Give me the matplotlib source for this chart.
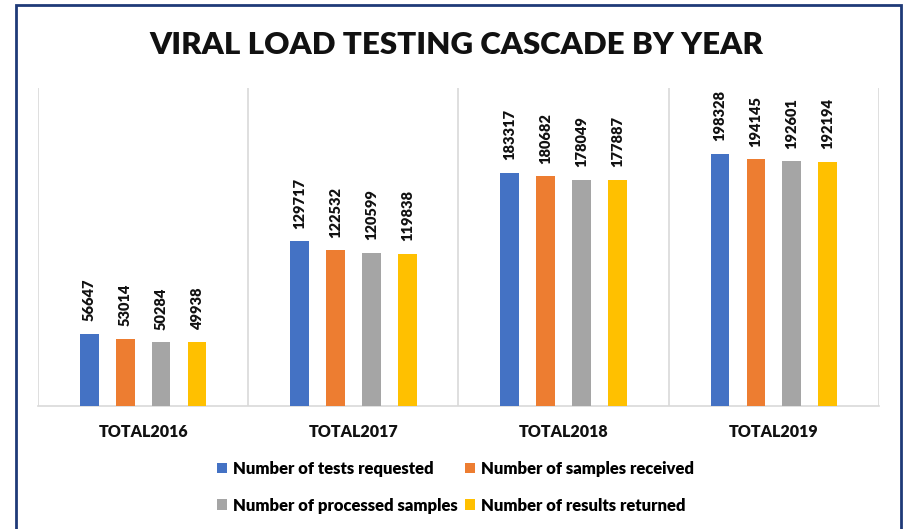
import matplotlib.pyplot as plt
from matplotlib.patches import Rectangle
import numpy as np

plt.rcParams['font.family'] = ['Lato', 'DejaVu Sans']

years = ['TOTAL2016', 'TOTAL2017', 'TOTAL2018', 'TOTAL2019']
series_names = ['Number of tests requested', 'Number of samples received',
                'Number of processed samples', 'Number of results returned']
tests_requested = [56647, 129717, 183317, 198328]
samples_received = [53014, 122532, 180682, 194145]
processed_samples = [50284, 120599, 178049, 192601]
results_returned = [49938, 119838, 177887, 192194]
colors = ['#4472C4', '#ED7D31', '#A5A5A5', '#FFC000']

series = [tests_requested, samples_received, processed_samples, results_returned]

fig = plt.figure(figsize=(9.07, 5.29), dpi=100)
ax = fig.add_axes([0.0419, 0.2325, 0.9272, 0.6011])

x = np.arange(len(years))
step = 0.171
width = 0.089
handles = []
for i, (vals, col, name) in enumerate(zip(series, colors, series_names)):
    pos = x + (i - 1.5) * step
    bars = ax.bar(pos, vals, width=width, color=col, label=name, zorder=3)
    handles.append(bars)
    for b, v in zip(bars, vals):
        ax.annotate(str(v), (b.get_x() + b.get_width() / 2, v),
                    xytext=(0, 9), textcoords='offset points',
                    rotation=90, ha='center', va='bottom',
                    fontsize=10.5, fontweight='heavy', color='#111111')

ax.set_xlim(-0.5, len(years) - 0.5)
ax.set_ylim(0, 250000)
for xv in np.arange(-0.5, len(years), 1):
    ax.axvline(xv, color='#D9D9D9', lw=1.2, zorder=1)

for s in ['top', 'right', 'left']:
    ax.spines[s].set_visible(False)
ax.spines['bottom'].set_color('#D9D9D9')
ax.spines['bottom'].set_linewidth(1.2)
ax.set_yticks([])
ax.set_xticks(x)
ax.set_xticklabels(years)
for lbl in ax.get_xticklabels():
    lbl.set_fontsize(11.5)
    lbl.set_fontweight('heavy')
    lbl.set_color('#111111')
ax.tick_params(axis='x', length=0, pad=13)

fig.text(0.503, 0.915, 'VIRAL LOAD TESTING CASCADE BY YEAR', ha='center', va='center',
         fontsize=22.5, fontweight='heavy', color='#111111')

# row order: requested, received / processed, returned
order = [0, 2, 1, 3]
fig.legend([handles[k] for k in order], [series_names[k] for k in order],
           loc='center', bbox_to_anchor=(0.502, 0.079), ncol=2, frameon=False,
           prop={'size': 12, 'weight': 'heavy'}, handlelength=0.6, handleheight=0.6,
           handletextpad=0.35, columnspacing=0.45, labelspacing=1.25)

fig.patches.append(Rectangle((0.0176, -0.05), 0.976, 1.04, transform=fig.transFigure,
                             fill=False, edgecolor='#1F3A78', lw=2))

fig.savefig('out.png', dpi=100)
